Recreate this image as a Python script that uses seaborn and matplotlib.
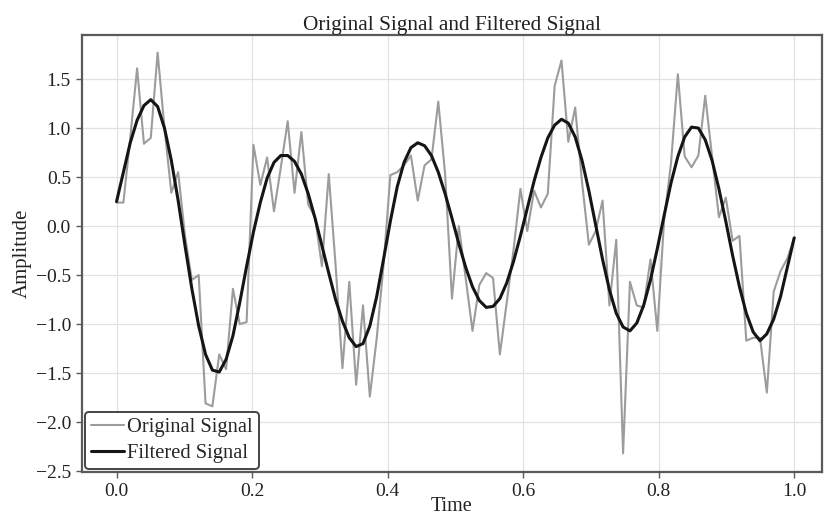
import numpy as np
import pandas as pd
import matplotlib
matplotlib.use("Agg")
import matplotlib.pyplot as plt
import seaborn as sns

# ---- data ----
time = np.linspace(0.0, 1.0, 100)

original_signal = [
    0.24, 0.24, 0.90, 1.61, 0.84, 0.90, 1.77, 1.00, 0.34, 0.55,
    -0.10, -0.55, -0.50, -1.81, -1.84, -1.31, -1.46, -0.64, -1.00, -0.98,
    0.83, 0.42, 0.70, 0.15, 0.60, 1.07, 0.34, 0.96, 0.22, 0.09,
    -0.41, 0.53, -0.40, -1.45, -0.57, -1.62, -0.81, -1.74, -1.15, -0.40,
    0.52, 0.55, 0.62, 0.72, 0.26, 0.62, 0.68, 1.27, 0.53, -0.74,
    0.00, -0.53, -1.07, -0.60, -0.48, -0.53, -1.31, -0.78, -0.24, 0.38,
    -0.05, 0.36, 0.19, 0.33, 1.43, 1.69, 0.86, 1.21, 0.45, -0.19,
    -0.05, 0.26, -0.81, -0.14, -2.32, -0.57, -0.81, -0.83, -0.34, -1.07,
    0.07, 0.64, 1.55, 0.71, 0.60, 0.72, 1.33, 0.71, 0.09, 0.29,
    -0.15, -0.10, -1.17, -1.14, -1.14, -1.70, -0.67, -0.46, -0.33, -0.12,
]

filtered_signal = [
    0.25, 0.55, 0.85, 1.08, 1.23, 1.29, 1.22, 1.00, 0.67, 0.26,
    -0.20, -0.64, -1.02, -1.31, -1.47, -1.49, -1.36, -1.12, -0.78, -0.41,
    -0.06, 0.24, 0.49, 0.65, 0.72, 0.72, 0.66, 0.53, 0.33, 0.08,
    -0.20, -0.48, -0.75, -0.97, -1.14, -1.23, -1.20, -1.02, -0.72, -0.34,
    0.05, 0.40, 0.65, 0.80, 0.85, 0.82, 0.72, 0.55, 0.33, 0.08,
    -0.18, -0.42, -0.62, -0.76, -0.83, -0.82, -0.74, -0.58, -0.36, -0.10,
    0.18, 0.46, 0.70, 0.90, 1.03, 1.09, 1.05, 0.91, 0.67, 0.36,
    0.01, -0.34, -0.65, -0.89, -1.03, -1.07, -0.99, -0.81, -0.55, -0.23,
    0.11, 0.44, 0.71, 0.91, 1.01, 1.00, 0.88, 0.67, 0.38, 0.05,
    -0.30, -0.62, -0.89, -1.08, -1.17, -1.10, -0.95, -0.72, -0.42, -0.12,
]

x_ticks = [0.0, 0.2, 0.4, 0.6, 0.8, 1.0]
y_ticks = [-2.5, -2.0, -1.5, -1.0, -0.5, 0.0, 0.5, 1.0, 1.5]

df = pd.DataFrame({"Time": time,
                   "Original": original_signal,
                   "Filtered": filtered_signal})

# ---- style ----
sns.set_theme(style="whitegrid")
plt.rcParams["font.family"] = ["Liberation Serif", "DejaVu Serif"]
plt.rcParams["axes.unicode_minus"] = True

fig = plt.figure(figsize=(8.25, 5.16), dpi=100)
ax = fig.add_axes([82 / 825, 1 - 472 / 516, (822 - 82) / 825, (472 - 35) / 516])

sns.lineplot(data=df, x="Time", y="Original", ax=ax, color="#9c9c9c",
             linewidth=1.5, label="Original Signal")
sns.lineplot(data=df, x="Time", y="Filtered", ax=ax, color="#151515",
             linewidth=2.2, label="Filtered Signal")

ax.set_xlim(-0.051, 1.041)
ax.set_ylim(-2.51, 1.95)
ax.set_xticks(x_ticks)
ax.set_yticks(y_ticks)
ax.set_xticklabels([f"{v:.1f}" for v in x_ticks])
ax.set_yticklabels([f"{v:.1f}".replace("-", "\u2212") for v in y_ticks])

ax.grid(True, color="#e2e2e2", linewidth=0.9)
for s in ax.spines.values():
    s.set_color("#5a5a5a")
    s.set_linewidth(1.6)
ax.tick_params(axis="both", which="both", bottom=True, left=True,
               length=4, width=1.0, color="#5a5a5a",
               labelsize=14, labelcolor="#222222", pad=4)

ax.set_title("Original Signal and Filtered Signal", fontsize=15.3,
             color="#222222", pad=1)
ax.set_xlabel("Time", fontsize=14.5, color="#222222", labelpad=-2)
ax.set_ylabel("Amplitude", fontsize=15, color="#222222", labelpad=3)

leg = ax.legend(loc="lower left", fontsize=14.8, frameon=True,
                handlelength=1.6, handletextpad=0.15, borderpad=0.3,
                labelspacing=0.3, borderaxespad=0.15, fancybox=True)
leg.get_frame().set_edgecolor("#444444")
leg.get_frame().set_linewidth(1.4)
leg.get_frame().set_alpha(1.0)

fig.savefig("out.png", dpi=100)
